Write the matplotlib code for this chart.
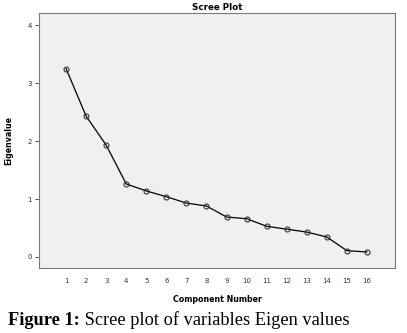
import numpy as np
import matplotlib.pyplot as plt

# eigenvalues
components = list(range(1, 17))
eigenvalues = [3.25, 2.43, 1.93, 1.26, 1.14, 1.04, 0.93, 0.88,
               0.69, 0.66, 0.53, 0.48, 0.43, 0.345, 0.11, 0.086]
y_ticks = [0, 1, 2, 3, 4]

fig = plt.figure(figsize=(4.07, 3.33), dpi=100)
ax = fig.add_axes([39/407, 1 - 268/333, (395-39)/407, (268-13)/333])
ax.set_facecolor('#f0f0f0')

ax.plot(components, eigenvalues, color='black', lw=0.9, marker='o',
        markersize=3.6, markerfacecolor='none', markeredgecolor='#333333', markeredgewidth=0.8)

ax.set_xlim(-0.35, 17.4)
ax.set_ylim(-0.19, 4.21)
ax.set_xticks(components)
ax.set_yticks(y_ticks)
ax.tick_params(axis='x', length=0, labelsize=5, colors='#333333', pad=7)
ax.tick_params(axis='y', length=3, width=0.6, labelsize=5, colors='#333333', pad=2)
for s in ax.spines.values():
    s.set_color('#7a7a7a')
    s.set_linewidth(0.8)

ax.set_title('Scree Plot', fontsize=6.3, fontweight='bold', pad=2)
ax.set_xlabel('Component Number', fontsize=5.7, fontweight='bold', labelpad=8)
ax.set_ylabel('Eigenvalue', fontsize=5.7, fontweight='bold', labelpad=10)

t = fig.text(8/407, 1 - 325/333, 'Figure 1:', fontsize=13.2, fontweight='bold',
             family='Liberation Serif', va='baseline')
ax.annotate(' Scree plot of variables Eigen values', xy=(1, 0), xycoords=t,
            fontsize=13.2, family='Liberation Serif', va='bottom', ha='left',
            annotation_clip=False)

fig.savefig('out.png', dpi=100)
